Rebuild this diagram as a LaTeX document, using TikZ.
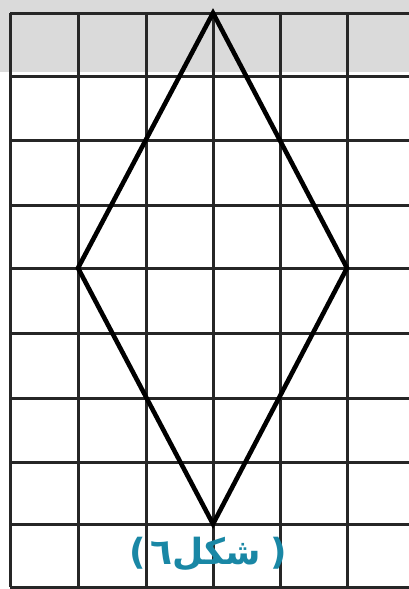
\documentclass[tikz,border=0pt]{standalone}
\usepackage{fontspec}
\newfontfamily\arabicfont[Script=Arabic]{DejaVu Sans}
\newfontfamily\parenfont{DejaVu Sans}
\TeXXeTstate=1
\definecolor{labelteal}{RGB}{25,135,165}
\definecolor{scangray}{RGB}{218,218,218}
\begin{document}
\begin{tikzpicture}[x=1pt,y=-1pt,
  gridline/.style={line width=3.0pt,color=black!85},
  rhombusline/.style={line width=4.6pt,color=black,line join=miter},
  caption/.style={text=labelteal,font=\bfseries\fontsize{36}{40}\selectfont,inner sep=0pt}]
\useasboundingbox (0,0) rectangle (409,589);
\fill[white] (0,0) rectangle (409,589);
% grey scan band at the top
\fill[scangray] (0,0) rectangle (409,72);
\fill[white] (10,72) rectangle (409,76);
% grid
\foreach \x in {10,78,146,213,280,347}
  \draw[gridline] (\x,13) -- (\x,587);
\foreach \y in {13,76,140,205,268,333,398,462,524,587}
  \draw[gridline] (10,\y) -- (409,\y);
% rhombus
\coordinate (T) at (213,13);
\coordinate (R) at (347,268);
\coordinate (B) at (213,524);
\coordinate (L) at (78,268);
\draw[rhombusline] (T) -- (R) -- (B) -- (L) -- cycle;
% caption
\node[caption] (cap) at (208,554) {{\parenfont(\hspace{5pt}}{\arabicfont\beginR شكل٦\endR}{\parenfont\hspace{9pt})}};
\end{tikzpicture}
\end{document}
